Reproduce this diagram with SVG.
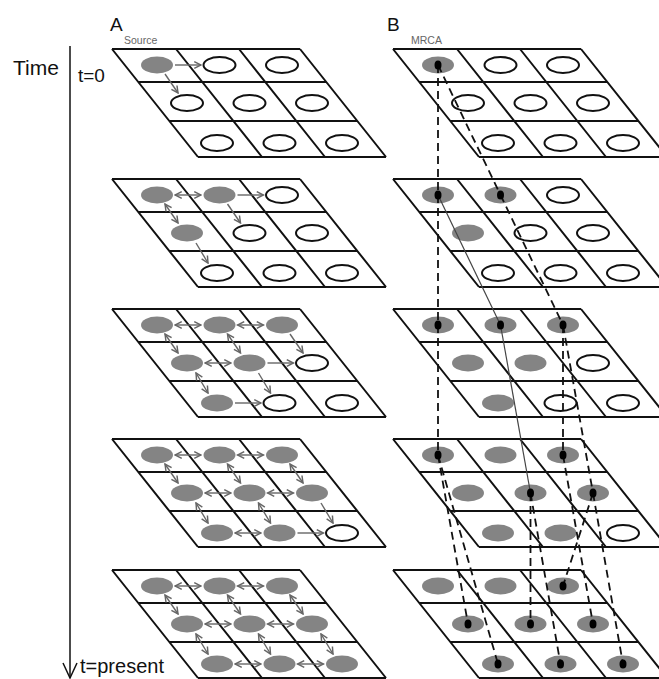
<svg xmlns="http://www.w3.org/2000/svg" xmlns:xlink="http://www.w3.org/1999/xlink" width="659" height="679" viewBox="0 0 659 679">
<style>
text{font-family:"Liberation Sans",Arial,sans-serif;fill:#111}
.grid{fill:none;stroke:#111;stroke-width:2}
.f{fill:#848484}
.o{fill:#fff;stroke:#111;stroke-width:2}
.d{fill:#000}
.s{stroke:#666;stroke-width:1.4;fill:none;marker-end:url(#ah)}
.b{stroke:#666;stroke-width:1.4;fill:none;marker-start:url(#ah);marker-end:url(#ah)}
.dl{stroke:#111;stroke-width:1.8;stroke-dasharray:8 5;fill:none}
.tl{stroke:#444;stroke-width:1.2;fill:none}
</style>
<defs>
<marker id="ah" viewBox="0 0 8 8" refX="7" refY="4" markerWidth="9" markerHeight="9" markerUnits="userSpaceOnUse" orient="auto-start-reverse">
<path d="M1,1 L7,4 L1,7" fill="none" stroke="#666" stroke-width="1.3"/>
</marker>
<path id="grid" class="grid" d="M0,0 H188 M26.3,33 H214.3 M57.3,72 H245.3 M86,108 H274 M0,0 L86,108 M64,0 L150,108 M127,0 L213,108 M188,0 L274,108"/>
</defs>

<g id="labels">
<text x="110" y="31" font-size="19">A</text>
<text x="387" y="31" font-size="19">B</text>
<text x="124" y="44" font-size="10.5" style="fill:#666">Source</text>
<text x="411" y="44" font-size="10.5" style="fill:#666">MRCA</text>
<text x="13" y="75" font-size="21">Time</text>
<text x="78" y="82" font-size="19">t=0</text>
<text x="80" y="673" font-size="20">t=present</text>
</g>

<g id="time-axis" fill="none" stroke="#111" stroke-width="1.5">
<path d="M70,46 V678"/>
<path d="M63,663 L70,678 L77,663"/>
</g>

<!-- Panel A1 t=0 -->
<g id="A1" transform="translate(112,49)">
<use href="#grid"/>
<ellipse class="f" cx="45" cy="16" rx="16" ry="8.5"/>
<ellipse class="o" cx="107.5" cy="16" rx="16" ry="8"/>
<ellipse class="o" cx="170" cy="16" rx="16" ry="8"/>
<ellipse class="o" cx="75" cy="54" rx="16" ry="8"/>
<ellipse class="o" cx="137.5" cy="54" rx="16" ry="8"/>
<ellipse class="o" cx="200" cy="54" rx="16" ry="8"/>
<ellipse class="o" cx="105" cy="94" rx="16" ry="8"/>
<ellipse class="o" cx="167.5" cy="94" rx="16" ry="8"/>
<ellipse class="o" cx="230" cy="94" rx="16" ry="8"/>
<path class="s" d="M63,16 H89"/>
<path class="s" d="M53,25 L66,44"/>
</g>

<!-- Panel A2 -->
<g id="A2" transform="translate(112,179)">
<use href="#grid"/>
<ellipse class="f" cx="45" cy="16" rx="16" ry="8.5"/>
<ellipse class="f" cx="107.5" cy="16" rx="16" ry="8.5"/>
<ellipse class="o" cx="170" cy="16" rx="16" ry="8"/>
<ellipse class="f" cx="75" cy="54" rx="16" ry="8.5"/>
<ellipse class="o" cx="137.5" cy="54" rx="16" ry="8"/>
<ellipse class="o" cx="200" cy="54" rx="16" ry="8"/>
<ellipse class="o" cx="105" cy="94" rx="16" ry="8"/>
<ellipse class="o" cx="167.5" cy="94" rx="16" ry="8"/>
<ellipse class="o" cx="230" cy="94" rx="16" ry="8"/>
<path class="b" d="M63,16 H89"/>
<path class="s" d="M125.5,16 H151.5"/>
<path class="b" d="M53,25 L66,44"/>
<path class="s" d="M115.5,25 L128.5,44"/>
<path class="s" d="M84,64 L96,84"/>
</g>

<!-- Panel A3 -->
<g id="A3" transform="translate(112,309)">
<use href="#grid"/>
<ellipse class="f" cx="45" cy="16" rx="16" ry="8.5"/>
<ellipse class="f" cx="107.5" cy="16" rx="16" ry="8.5"/>
<ellipse class="f" cx="170" cy="16" rx="16" ry="8.5"/>
<ellipse class="f" cx="75" cy="54" rx="16" ry="8.5"/>
<ellipse class="f" cx="137.5" cy="54" rx="16" ry="8.5"/>
<ellipse class="o" cx="200" cy="54" rx="16" ry="8"/>
<ellipse class="f" cx="105" cy="94" rx="16" ry="8.5"/>
<ellipse class="o" cx="167.5" cy="94" rx="16" ry="8"/>
<ellipse class="o" cx="230" cy="94" rx="16" ry="8"/>
<path class="b" d="M63,16 H89"/>
<path class="b" d="M125.5,16 H151.5"/>
<path class="b" d="M93,54 H119"/>
<path class="s" d="M155.5,54 H181.5"/>
<path class="s" d="M123,94 H149"/>
<path class="b" d="M53,25 L66,44"/>
<path class="b" d="M115.5,25 L128.5,44"/>
<path class="s" d="M178,25 L191,44"/>
<path class="b" d="M84,64 L96,84"/>
<path class="s" d="M146.5,64 L158.5,84"/>
</g>

<!-- Panel A4 -->
<g id="A4" transform="translate(112,439)">
<use href="#grid"/>
<ellipse class="f" cx="45" cy="16" rx="16" ry="8.5"/>
<ellipse class="f" cx="107.5" cy="16" rx="16" ry="8.5"/>
<ellipse class="f" cx="170" cy="16" rx="16" ry="8.5"/>
<ellipse class="f" cx="75" cy="54" rx="16" ry="8.5"/>
<ellipse class="f" cx="137.5" cy="54" rx="16" ry="8.5"/>
<ellipse class="f" cx="200" cy="54" rx="16" ry="8.5"/>
<ellipse class="f" cx="105" cy="94" rx="16" ry="8.5"/>
<ellipse class="f" cx="167.5" cy="94" rx="16" ry="8.5"/>
<ellipse class="o" cx="230" cy="94" rx="16" ry="8"/>
<path class="b" d="M63,16 H89"/>
<path class="b" d="M125.5,16 H151.5"/>
<path class="b" d="M93,54 H119"/>
<path class="b" d="M155.5,54 H181.5"/>
<path class="b" d="M123,94 H149"/>
<path class="s" d="M185.5,94 H211.5"/>
<path class="b" d="M53,25 L66,44"/>
<path class="b" d="M115.5,25 L128.5,44"/>
<path class="b" d="M178,25 L191,44"/>
<path class="b" d="M84,64 L96,84"/>
<path class="b" d="M146.5,64 L158.5,84"/>
<path class="s" d="M209,64 L221,84"/>
</g>

<!-- Panel A5 -->
<g id="A5" transform="translate(112,570)">
<use href="#grid"/>
<ellipse class="f" cx="45" cy="16" rx="16" ry="8.5"/>
<ellipse class="f" cx="107.5" cy="16" rx="16" ry="8.5"/>
<ellipse class="f" cx="170" cy="16" rx="16" ry="8.5"/>
<ellipse class="f" cx="75" cy="54" rx="16" ry="8.5"/>
<ellipse class="f" cx="137.5" cy="54" rx="16" ry="8.5"/>
<ellipse class="f" cx="200" cy="54" rx="16" ry="8.5"/>
<ellipse class="f" cx="105" cy="94" rx="16" ry="8.5"/>
<ellipse class="f" cx="167.5" cy="94" rx="16" ry="8.5"/>
<ellipse class="f" cx="230" cy="94" rx="16" ry="8.5"/>
<path class="b" d="M63,16 H89"/>
<path class="b" d="M125.5,16 H151.5"/>
<path class="b" d="M93,54 H119"/>
<path class="b" d="M155.5,54 H181.5"/>
<path class="b" d="M123,94 H149"/>
<path class="b" d="M185.5,94 H211.5"/>
<path class="b" d="M53,25 L66,44"/>
<path class="b" d="M115.5,25 L128.5,44"/>
<path class="b" d="M178,25 L191,44"/>
<path class="b" d="M84,64 L96,84"/>
<path class="b" d="M146.5,64 L158.5,84"/>
<path class="b" d="M209,64 L221,84"/>
</g>

<!-- Panel B1 -->
<g id="B1" transform="translate(393,49)">
<use href="#grid"/>
<ellipse class="f" cx="45" cy="16" rx="16" ry="8.5"/>
<ellipse class="o" cx="107.5" cy="16" rx="16" ry="8"/>
<ellipse class="o" cx="170" cy="16" rx="16" ry="8"/>
<ellipse class="o" cx="75" cy="54" rx="16" ry="8"/>
<ellipse class="o" cx="137.5" cy="54" rx="16" ry="8"/>
<ellipse class="o" cx="200" cy="54" rx="16" ry="8"/>
<ellipse class="o" cx="105" cy="94" rx="16" ry="8"/>
<ellipse class="o" cx="167.5" cy="94" rx="16" ry="8"/>
<ellipse class="o" cx="230" cy="94" rx="16" ry="8"/>
</g>

<!-- Panel B2 -->
<g id="B2" transform="translate(393,179)">
<use href="#grid"/>
<ellipse class="f" cx="45" cy="16" rx="16" ry="8.5"/>
<ellipse class="f" cx="107.5" cy="16" rx="16" ry="8.5"/>
<ellipse class="o" cx="170" cy="16" rx="16" ry="8"/>
<ellipse class="f" cx="75" cy="54" rx="16" ry="8.5"/>
<ellipse class="o" cx="137.5" cy="54" rx="16" ry="8"/>
<ellipse class="o" cx="200" cy="54" rx="16" ry="8"/>
<ellipse class="o" cx="105" cy="94" rx="16" ry="8"/>
<ellipse class="o" cx="167.5" cy="94" rx="16" ry="8"/>
<ellipse class="o" cx="230" cy="94" rx="16" ry="8"/>
</g>

<!-- Panel B3 -->
<g id="B3" transform="translate(393,309)">
<use href="#grid"/>
<ellipse class="f" cx="45" cy="16" rx="16" ry="8.5"/>
<ellipse class="f" cx="107.5" cy="16" rx="16" ry="8.5"/>
<ellipse class="f" cx="170" cy="16" rx="16" ry="8.5"/>
<ellipse class="f" cx="75" cy="54" rx="16" ry="8.5"/>
<ellipse class="f" cx="137.5" cy="54" rx="16" ry="8.5"/>
<ellipse class="o" cx="200" cy="54" rx="16" ry="8"/>
<ellipse class="f" cx="105" cy="94" rx="16" ry="8.5"/>
<ellipse class="o" cx="167.5" cy="94" rx="16" ry="8"/>
<ellipse class="o" cx="230" cy="94" rx="16" ry="8"/>
</g>

<!-- Panel B4 -->
<g id="B4" transform="translate(393,439)">
<use href="#grid"/>
<ellipse class="f" cx="45" cy="16" rx="16" ry="8.5"/>
<ellipse class="f" cx="107.5" cy="16" rx="16" ry="8.5"/>
<ellipse class="f" cx="170" cy="16" rx="16" ry="8.5"/>
<ellipse class="f" cx="75" cy="54" rx="16" ry="8.5"/>
<ellipse class="f" cx="137.5" cy="54" rx="16" ry="8.5"/>
<ellipse class="f" cx="200" cy="54" rx="16" ry="8.5"/>
<ellipse class="f" cx="105" cy="94" rx="16" ry="8.5"/>
<ellipse class="f" cx="167.5" cy="94" rx="16" ry="8.5"/>
<ellipse class="o" cx="230" cy="94" rx="16" ry="8"/>
</g>

<!-- Panel B5 -->
<g id="B5" transform="translate(393,570)">
<use href="#grid"/>
<ellipse class="f" cx="45" cy="16" rx="16" ry="8.5"/>
<ellipse class="f" cx="107.5" cy="16" rx="16" ry="8.5"/>
<ellipse class="f" cx="170" cy="16" rx="16" ry="8.5"/>
<ellipse class="f" cx="75" cy="54" rx="16" ry="8.5"/>
<ellipse class="f" cx="137.5" cy="54" rx="16" ry="8.5"/>
<ellipse class="f" cx="200" cy="54" rx="16" ry="8.5"/>
<ellipse class="f" cx="105" cy="94" rx="16" ry="8.5"/>
<ellipse class="f" cx="167.5" cy="94" rx="16" ry="8.5"/>
<ellipse class="f" cx="230" cy="94" rx="16" ry="8.5"/>
</g>

<g id="connectors">
<path class="dl" d="M438,65 L438,195"/>
<path class="dl" d="M438,65 L500.5,195"/>
<path class="dl" d="M438,195 L438,325"/>
<path class="tl" d="M438,195 L500.5,325"/>
<path class="dl" d="M500.5,195 L563,325"/>
<path class="dl" d="M438,325 L438,455"/>
<path class="tl" d="M500.5,325 L530.5,493"/>
<path class="dl" d="M563,325 L563,455"/>
<path class="dl" d="M563,325 L593,493"/>
<path class="dl" d="M438,455 L468,624"/>
<path class="dl" d="M438,455 L498,664"/>
<path class="dl" d="M530.5,493 L530.5,624"/>
<path class="dl" d="M530.5,493 L560.5,664"/>
<path class="dl" d="M563,455 L593,624"/>
<path class="dl" d="M593,493 L563,586"/>
<path class="dl" d="M593,493 L623,664"/>
</g>

<g id="lineage-dots">
<ellipse class="d" cx="438" cy="65" rx="3.5" ry="4.5"/>
<ellipse class="d" cx="438" cy="195" rx="3.5" ry="4.5"/>
<ellipse class="d" cx="500.5" cy="195" rx="3.5" ry="4.5"/>
<ellipse class="d" cx="438" cy="325" rx="3.5" ry="4.5"/>
<ellipse class="d" cx="500.5" cy="325" rx="3.5" ry="4.5"/>
<ellipse class="d" cx="563" cy="325" rx="3.5" ry="4.5"/>
<ellipse class="d" cx="438" cy="455" rx="3.5" ry="4.5"/>
<ellipse class="d" cx="563" cy="455" rx="3.5" ry="4.5"/>
<ellipse class="d" cx="530.5" cy="493" rx="3.5" ry="4.5"/>
<ellipse class="d" cx="593" cy="493" rx="3.5" ry="4.5"/>
<ellipse class="d" cx="563" cy="586" rx="3.5" ry="4.5"/>
<ellipse class="d" cx="468" cy="624" rx="3.5" ry="4.5"/>
<ellipse class="d" cx="530.5" cy="624" rx="3.5" ry="4.5"/>
<ellipse class="d" cx="593" cy="624" rx="3.5" ry="4.5"/>
<ellipse class="d" cx="498" cy="664" rx="3.5" ry="4.5"/>
<ellipse class="d" cx="560.5" cy="664" rx="3.5" ry="4.5"/>
<ellipse class="d" cx="623" cy="664" rx="3.5" ry="4.5"/>
</g>
</svg>
